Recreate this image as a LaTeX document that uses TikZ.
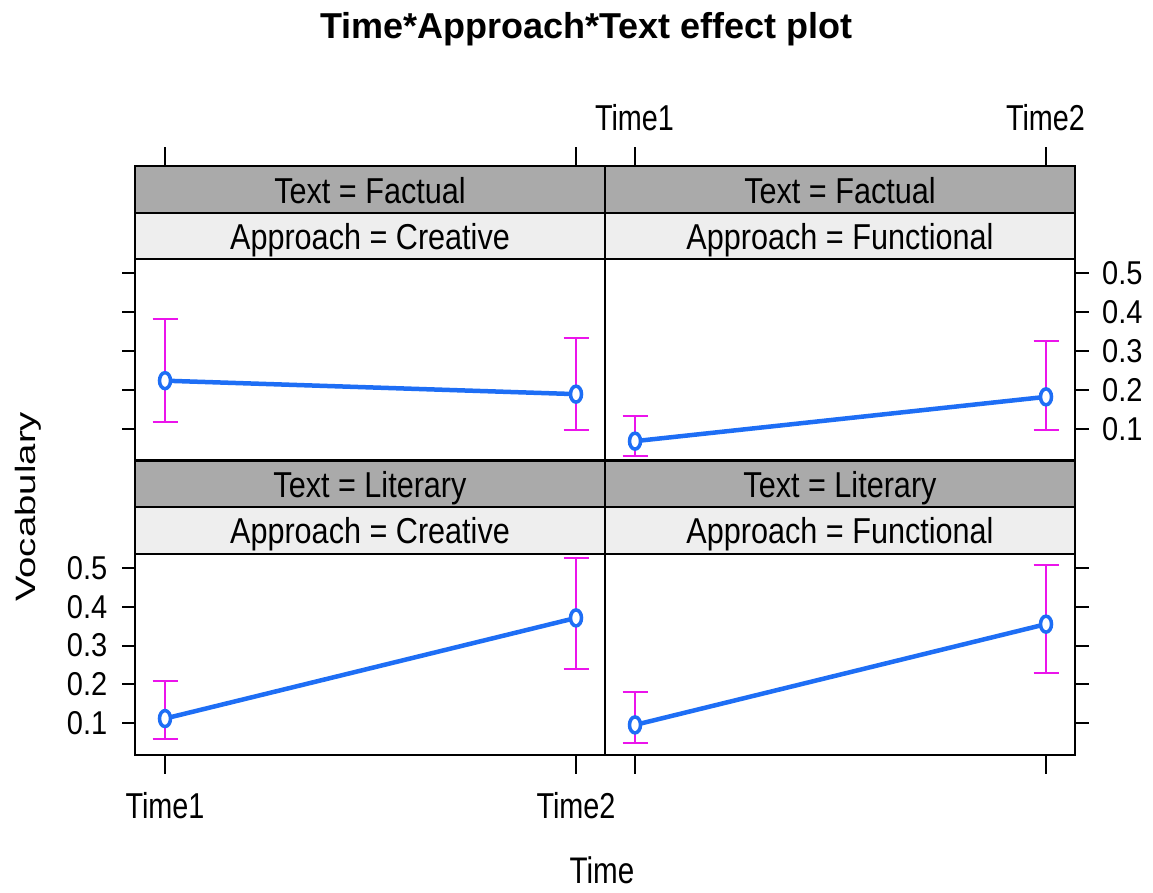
\documentclass[tikz,border=0pt]{standalone}
\usepackage{fontspec}
\setmainfont{Liberation Sans}[FakeStretch=0.8]
\newfontfamily\titlefont{Liberation Sans}[FakeStretch=1.0]
\newfontfamily\stripfont{Liberation Sans}[FakeStretch=0.85]
\newfontfamily\ylabfont{Liberation Sans}[FakeStretch=1.37]
\newfontfamily\numfont{Liberation Sans}[FakeStretch=0.88]
\usepackage{tikz}
\usetikzlibrary{positioning}
\definecolor{stripdark}{RGB}{170,170,170}
\definecolor{striplight}{RGB}{238,238,238}
\definecolor{effline}{RGB}{30,110,245}
\definecolor{errbar}{RGB}{235,20,235}

\begin{document}
\begin{tikzpicture}[
  x=1pt, y=-1pt,
  stripA/.style   = {draw, fill=stripdark, line width=2pt},
  stripB/.style   = {draw, fill=striplight, line width=2pt},
  panelbox/.style = {draw, line width=2.2pt},
  axtick/.style   = {line width=2pt},
  ticklab/.style  = {inner sep=0pt, font=\fontsize{36}{40}\selectfont},
  striplab/.style = {inner sep=0pt, font=\stripfont\fontsize{36}{40}\selectfont},
  num/.style      = {inner sep=0pt, font=\numfont\fontsize{33}{36}\selectfont},
  effect/.style   = {draw=effline, line width=4.5pt},
  ci/.style       = {draw=errbar, line width=2pt},
  ring/.style     = {draw=effline, fill=white, line width=3.5pt}
]
\useasboundingbox[fill=white] (0,0) rectangle (1153,892);
% title
\node[inner sep=0pt, anchor=base, font=\titlefont\bfseries\fontsize{36}{40}\selectfont]
  (title) at (586.5,38) {Time*Approach*Text effect plot};
% strips and panels
\foreach \cx/\ry/\txt/\app/\nm in {135/166/Factual/Creative/tl,
    605/166/Factual/Functional/tr,
    135/460.5/Literary/Creative/bl,
    605/460.5/Literary/Functional/br}{
  \draw[stripA] (\cx,\ry) rectangle ++(470,46.7);
  \draw[stripB] (\cx,\ry+46.7) rectangle ++(470,46.6);
  \draw[panelbox] (\cx,\ry+93.3) rectangle ++(470,201.2);
  \node[striplab, anchor=base] (txt-\nm) at (\cx+235,\ry+37.3) {Text = \txt};
  \node[striplab, anchor=base] (app-\nm) at (\cx+235,\ry+83.3) {Approach = \app};
}
% axis ticks
\foreach \x in {165,576,634.5,1045.5}{
  \draw[axtick] (\x,147) -- (\x,166);
  \draw[axtick] (\x,754.5) -- (\x,774);
}
\foreach \oy in {467.55,762.05}
  \foreach \v in {1,...,5}{
    \draw[axtick] (122,\oy-38.85*\v) -- (135,\oy-38.85*\v);
    \draw[axtick] (1075,\oy-38.85*\v) -- (1089,\oy-38.85*\v);
  }
% tick labels
\node[ticklab, anchor=base] (t1-top) at (634.5,130) {Time1};
\node[ticklab, anchor=base] (t2-top) at (1045.5,130) {Time2};
\node[ticklab, anchor=base] (t1-bot) at (165,818.3) {Time1};
\node[ticklab, anchor=base] (t2-bot) at (576,818.3) {Time2};
\foreach \v in {1,...,5}{
  \node[num, anchor=east] (yl\v) at (107.5,762.05-38.85*\v) {0.\v};
  \node[num, anchor=west] (yr\v) at (1102,467.55-38.85*\v) {0.\v};
}
% axis titles
\node[ticklab, anchor=base, font=\fontsize{37}{40}\selectfont] (xlab) at (602,883.3) {Time};
\node[inner sep=0pt, anchor=base west, rotate=90, font=\ylabfont\fontsize{28}{30}\selectfont]
  (ylab) at (35,602) {Vocabulary};
% effects with error bars
\foreach \cx/\oy/\a/\al/\ah/\b/\bl/\bh in {
    135/467.55/0.2236/0.118/0.382/0.189/0.0975/0.333,
    605/467.55/0.068/0.030/0.133/0.182/0.096/0.325,
    135/762.05/0.112/0.059/0.209/0.371/0.240/0.526,
    605/762.05/0.0956/0.048/0.180/0.355/0.228/0.506}{
  \begin{scope}[shift={(\cx,\oy)}, y=388.5pt]
    \draw[ci] (30,\al) -- (30,\ah);
    \draw[ci] (17.5,\al) -- (42.5,\al);
    \draw[ci] (17.5,\ah) -- (42.5,\ah);
    \draw[ci] (441,\bl) -- (441,\bh);
    \draw[ci] (428.5,\bl) -- (453.5,\bl);
    \draw[ci] (428.5,\bh) -- (453.5,\bh);
    \draw[effect] (30,\a) -- (441,\b);
    \draw[ring] (30,\a) ellipse [x radius=5.5pt, y radius=8pt];
    \draw[ring] (441,\b) ellipse [x radius=5.5pt, y radius=8pt];
  \end{scope}
}
\end{tikzpicture}
\end{document}
